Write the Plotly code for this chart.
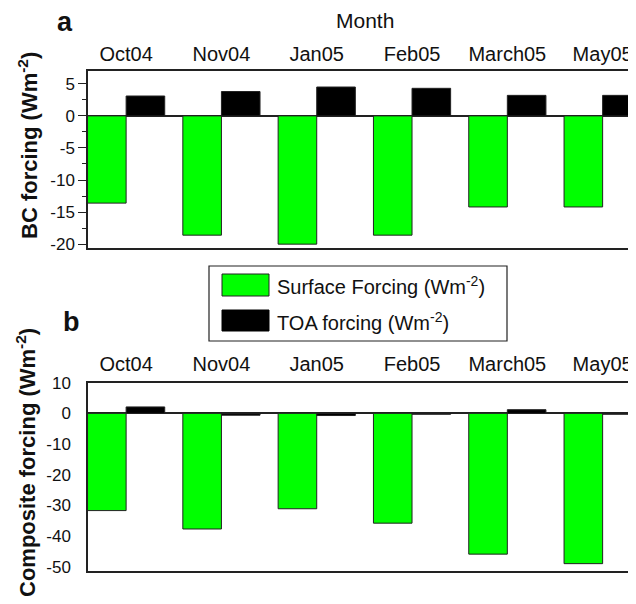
import plotly.graph_objects as go

months = ["Oct04", "Nov04", "Jan05", "Feb05", "March05", "May05"]
bc_surface = [-13.6, -18.6, -20.0, -18.6, -14.2, -14.2]
bc_toa = [3.1, 3.8, 4.5, 4.3, 3.2, 3.2]
comp_surface = [-31.7, -37.7, -31.1, -35.8, -45.9, -49.0]
comp_toa = [2.1, -0.6, -0.7, -0.3, 1.2, -0.3]
bc_ticks = [5, 0, -5, -10, -15, -20]
comp_ticks = [10, 0, -10, -20, -30, -40, -50]

# page body has an 8px default margin; size the figure so it ends at the window edge
OFF = 8
W, H = 636 - OFF, 604 - OFF
FONT = "Arial, Liberation Sans, sans-serif"
GREEN = "#00FF00"


def px(x):
    return (x - OFF) / W


def py(y):
    return 1 - (y - OFF) / H


fig = go.Figure()
bar_line = dict(color="#222222", width=1)
fig.add_trace(go.Bar(x=months, y=bc_surface, marker=dict(color=GREEN, line=bar_line),
                     name="Surface Forcing", xaxis="x", yaxis="y"))
fig.add_trace(go.Bar(x=months, y=bc_toa, marker=dict(color="#000000", line=bar_line),
                     name="TOA forcing", xaxis="x", yaxis="y"))
fig.add_trace(go.Bar(x=months, y=comp_surface, marker=dict(color=GREEN, line=bar_line),
                     name="Surface Forcing", xaxis="x2", yaxis="y2"))
fig.add_trace(go.Bar(x=months, y=comp_toa, marker=dict(color="#000000", line=bar_line),
                     name="TOA forcing", xaxis="x2", yaxis="y2"))

axis_common = dict(showline=True, linecolor="#222222", linewidth=1.5, showgrid=False,
                   automargin=False,
                   tickfont=dict(family=FONT, size=20, color="#111"))
xa = dict(axis_common, side="top", mirror=True, range=[-0.4, 5.35], ticks="",
          domain=[px(88), 1.0])

fig.update_layout(
    width=W, height=H, margin=dict(l=0, r=0, t=0, b=0),
    paper_bgcolor="white", plot_bgcolor="white",
    showlegend=False, barmode="group", bargap=0.19, bargroupgap=0,
    xaxis=dict(xa, anchor="y", ticklabelstandoff=0),
    xaxis2=dict(xa, anchor="y2", ticklabelstandoff=2),
    yaxis=dict(axis_common, anchor="x", domain=[py(248), py(71)], range=[-20.6, 7.0],
               tickvals=bc_ticks, ticktext=[str(v) for v in bc_ticks],
               ticks="outside", ticklen=8, tickcolor="#222", tickwidth=1.2,
               minor=dict(dtick=2.5, ticks="outside", ticklen=4, tickcolor="#222"),
               tickfont=dict(family=FONT, size=17, color="#111"),
               zeroline=True, zerolinecolor="#222", zerolinewidth=1.5),
    yaxis2=dict(axis_common, anchor="x2", domain=[py(570.7), py(382.7)], range=[-51.3, 10],
                tickvals=comp_ticks, ticktext=[str(v) for v in comp_ticks], ticks="",
                ticklabelstandoff=12,
                tickfont=dict(family=FONT, size=17, color="#111"),
                zeroline=True, zerolinecolor="#222", zerolinewidth=1.5),
)

ann = []
ann.append(dict(text="Month", x=px(364.5), y=py(21), xref="paper", yref="paper",
                showarrow=False, font=dict(family=FONT, size=21, color="#111"),
                xanchor="center", yanchor="middle"))
ann.append(dict(text="<b>a</b>", x=px(65), y=py(22), xref="paper", yref="paper",
                showarrow=False, font=dict(family=FONT, size=27, color="#111"),
                xanchor="center", yanchor="middle"))
ann.append(dict(text="<b>b</b>", x=px(71), y=py(322), xref="paper", yref="paper",
                showarrow=False, font=dict(family=FONT, size=27, color="#111"),
                xanchor="center", yanchor="middle"))
ann.append(dict(text="<b>BC forcing (Wm<sup>-2</sup>)</b>", x=px(28), y=py(146),
                xref="paper", yref="paper", showarrow=False, textangle=-90,
                font=dict(family=FONT, size=22, color="#111"),
                xanchor="center", yanchor="middle"))
ann.append(dict(text="<b>Composite forcing (Wm<sup>-2</sup>)</b>", x=px(26), y=py(463),
                xref="paper", yref="paper", showarrow=False, textangle=-90,
                font=dict(family=FONT, size=22, color="#111"),
                xanchor="center", yanchor="middle"))
# legend texts
ann.append(dict(text="Surface Forcing (Wm<sup>-2</sup>)", x=px(275), y=py(286),
                xref="paper", yref="paper", showarrow=False,
                font=dict(family=FONT, size=20, color="#111"),
                xanchor="left", yanchor="middle"))
ann.append(dict(text="TOA forcing (Wm<sup>-2</sup>)", x=px(275), y=py(321),
                xref="paper", yref="paper", showarrow=False,
                font=dict(family=FONT, size=20, color="#111"),
                xanchor="left", yanchor="middle"))
fig.update_layout(annotations=ann)

shapes = [
    dict(type="rect", xref="paper", yref="paper", x0=px(209), x1=px(507), y0=py(341), y1=py(266),
         line=dict(color="#222", width=1.2), fillcolor="white", layer="below"),
    dict(type="rect", xref="paper", yref="paper", x0=px(222), x1=px(269), y0=py(296), y1=py(274),
         line=dict(color="#222", width=1), fillcolor=GREEN),
    dict(type="rect", xref="paper", yref="paper", x0=px(222), x1=px(269), y0=py(331), y1=py(310),
         line=dict(color="#000", width=1), fillcolor="#000"),
]
fig.update_layout(shapes=shapes)

fig.write_html("out.html")
